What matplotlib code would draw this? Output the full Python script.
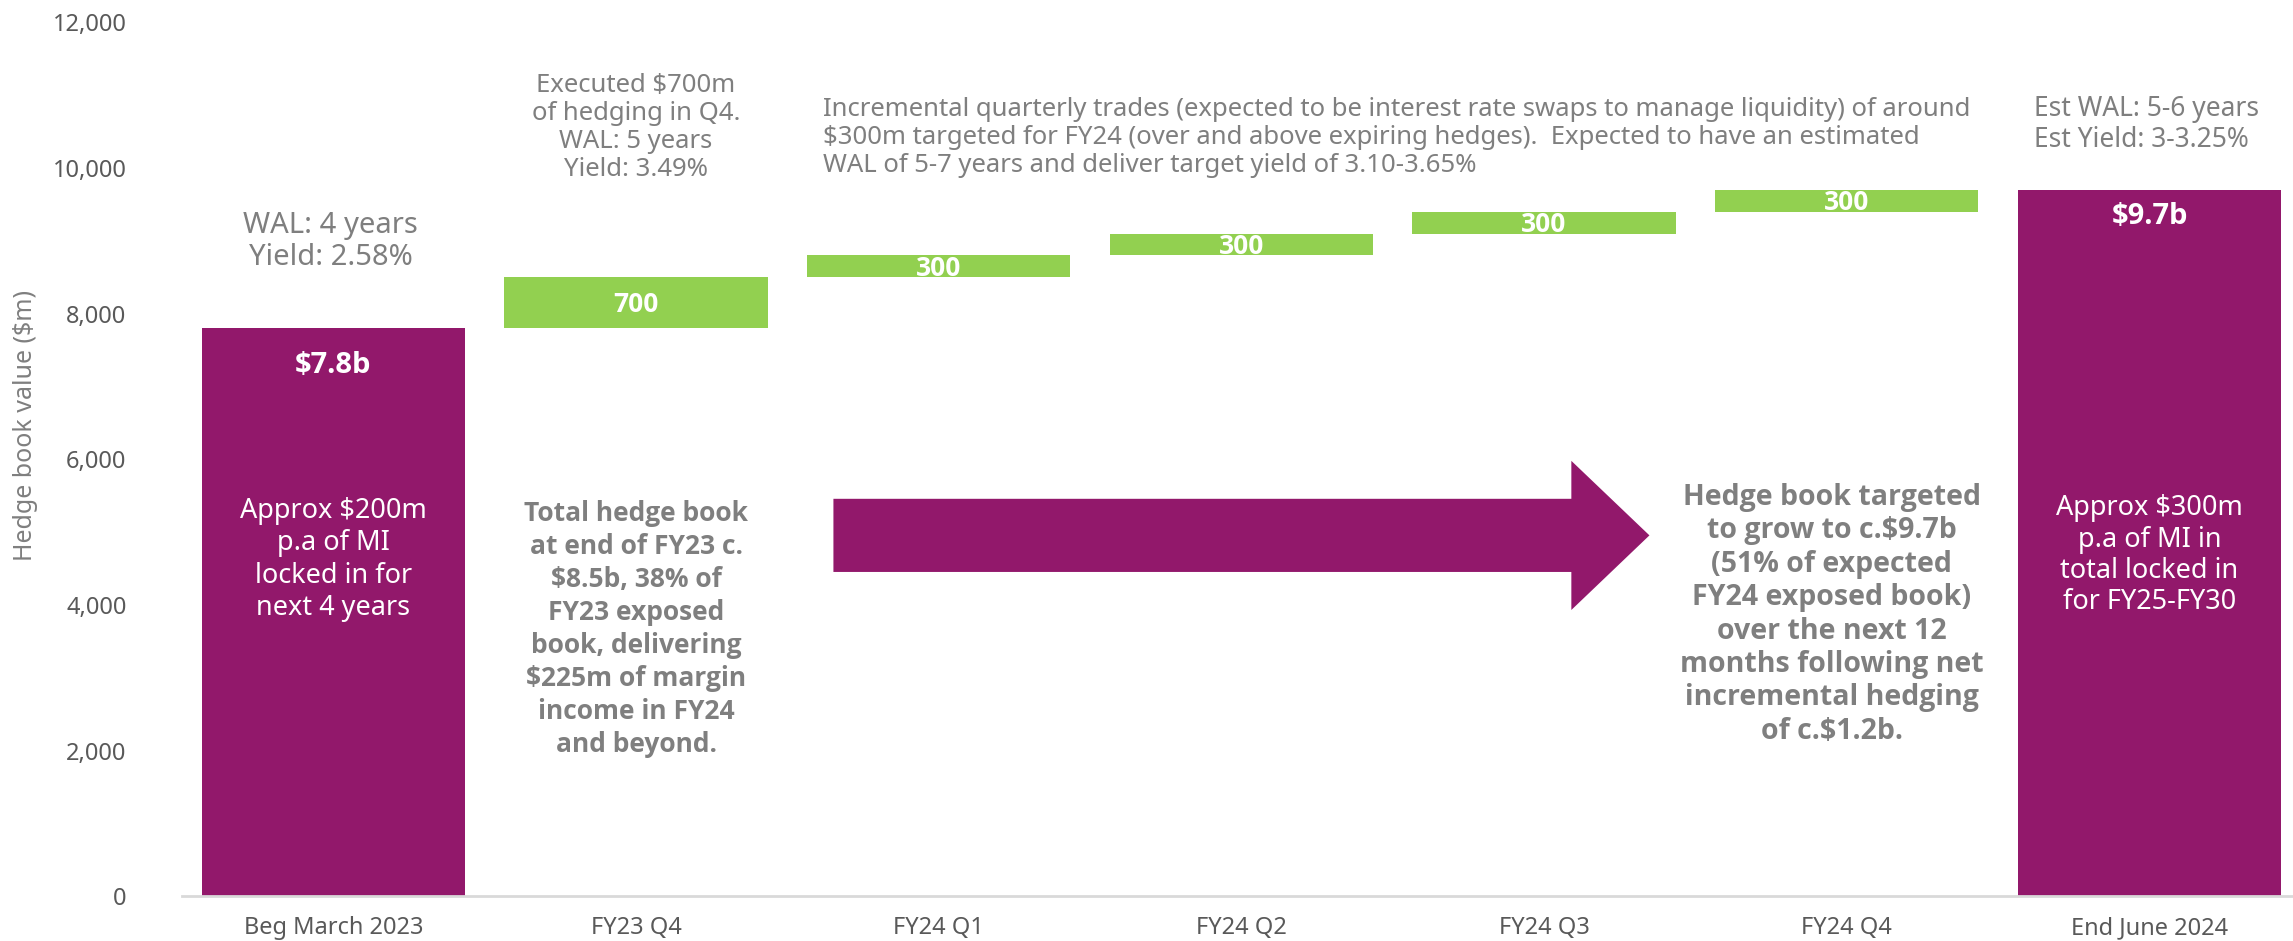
import numpy as np
import matplotlib
matplotlib.use("Agg")
import matplotlib.pyplot as plt
from matplotlib.patches import Polygon

plt.rcParams['font.family'] = ['Noto Sans', 'DejaVu Sans']
BOLD = ['Open Sans', 'Lato', 'DejaVu Sans']

# data
categories = ["Beg March 2023", "FY23 Q4", "FY24 Q1", "FY24 Q2", "FY24 Q3", "FY24 Q4", "End June 2024"]
start_total = 7800
increments = [700, 300, 300, 300, 300]
end_total = 9700
yticks = [0, 2000, 4000, 6000, 8000, 10000, 12000]

PURPLE = "#92186B"
GREEN = "#92D050"
GREY = "#7F7F7F"
TICK = "#595959"

fig = plt.figure(figsize=(22.93, 9.41), dpi=100)
ax = fig.add_axes([0.0794, 0.0473, 0.924, 0.929])

x = np.arange(len(categories))
w = 0.87

# totals
ax.bar([x[0], x[-1]], [start_total, end_total], width=w, color=PURPLE, zorder=2)

# increments (floating)
bottoms = start_total + np.concatenate([[0], np.cumsum(increments)[:-1]])
ax.bar(x[1:-1], increments, bottom=bottoms, width=w, color=GREEN, zorder=2)
for xi, b, v in zip(x[1:-1], bottoms, increments):
    ax.text(xi, b + v / 2 - 30, f"{v}", ha="center", va="center", color="white",
            fontsize=19, fontweight="bold", family=BOLD, zorder=3)

ax.text(x[0], 7285, "$7.8b", ha="center", va="center", color="white", fontsize=21,
        fontweight="bold", family=BOLD)
ax.text(x[-1], 9332, "$9.7b", ha="center", va="center", color="white", fontsize=21,
        fontweight="bold", family=BOLD)

ax.text(x[0], 4626, "Approx $200m\np.a of MI\nlocked in for\nnext 4 years", ha="center", va="center",
        color="white", fontsize=19.5, linespacing=1.2)
ax.text(x[-1], 4686, "Approx $300m\np.a of MI in\ntotal locked in\nfor FY25-FY30", ha="center", va="center",
        color="white", fontsize=19.5, linespacing=1.15)

# annotations above bars
ax.text(-0.01, 8990, "WAL: 4 years\nYield: 2.58%", ha="center", va="center", color=GREY, fontsize=21,
        linespacing=1.15)
ax.text(1.0, 10556, "Executed $700m\nof hedging in Q4.\nWAL: 5 years\nYield: 3.49%", ha="center", va="center",
        color=GREY, fontsize=18.5, linespacing=1.15)
ax.text(1.618, 10416,
        "Incremental quarterly trades (expected to be interest rate swaps to manage liquidity) of around\n"
        "$300m targeted for FY24 (over and above expiring hedges).  Expected to have an estimated\n"
        "WAL of 5-7 years and deliver target yield of 3.10-3.65%",
        ha="left", va="center", color=GREY, fontsize=18.5, linespacing=1.15)
ax.text(5.618, 10596, "Est WAL: 5-6 years\nEst Yield: 3-3.25%", ha="left", va="center", color=GREY,
        fontsize=19, linespacing=1.15)

ax.text(1.0, 3672, "Total hedge book\nat end of FY23 c.\n$8.5b, 38% of\nFY23 exposed\nbook, delivering\n"
        "$225m of margin\nincome in FY24\nand beyond.", ha="center", va="center", color=GREY,
        fontsize=19, fontweight="bold", family=BOLD, linespacing=1.28)
ax.text(4.95, 3873, "Hedge book targeted\nto grow to c.$9.7b\n(51% of expected\nFY24 exposed book)\n"
        "over the next 12\nmonths following net\nincremental hedging\nof c.$1.2b.", ha="center", va="center",
        color=GREY, fontsize=20.5, fontweight="bold", family=BOLD, linespacing=1.2)

# big arrow
arrow = Polygon([(1.652, 4455), (1.652, 5459), (4.09, 5459), (4.09, 5980), (4.348, 4957),
                 (4.09, 3933), (4.09, 4455)], closed=True, facecolor=PURPLE, edgecolor="none", zorder=2)
ax.add_patch(arrow)

ax.set_xlim(-0.5, 6.5)
ax.set_ylim(0, 12000)
ax.set_xticks(x)
ax.set_xticklabels(categories)
ax.set_yticks(yticks)
ax.set_yticklabels([f"{v:,}" for v in yticks])
ax.tick_params(axis="both", length=0, labelsize=17, colors=TICK)
ax.tick_params(axis="x", pad=14)
ax.tick_params(axis="y", pad=40)

for s in ["top", "right", "left"]:
    ax.spines[s].set_visible(False)
ax.spines["bottom"].set_color("#D9D9D9")
ax.spines["bottom"].set_linewidth(2)

fig.text(0.0113, 0.548, "Hedge book value ($m)", rotation=90, ha="center", va="center",
         color=GREY, fontsize=18)

fig.savefig("out.png", dpi=100)
